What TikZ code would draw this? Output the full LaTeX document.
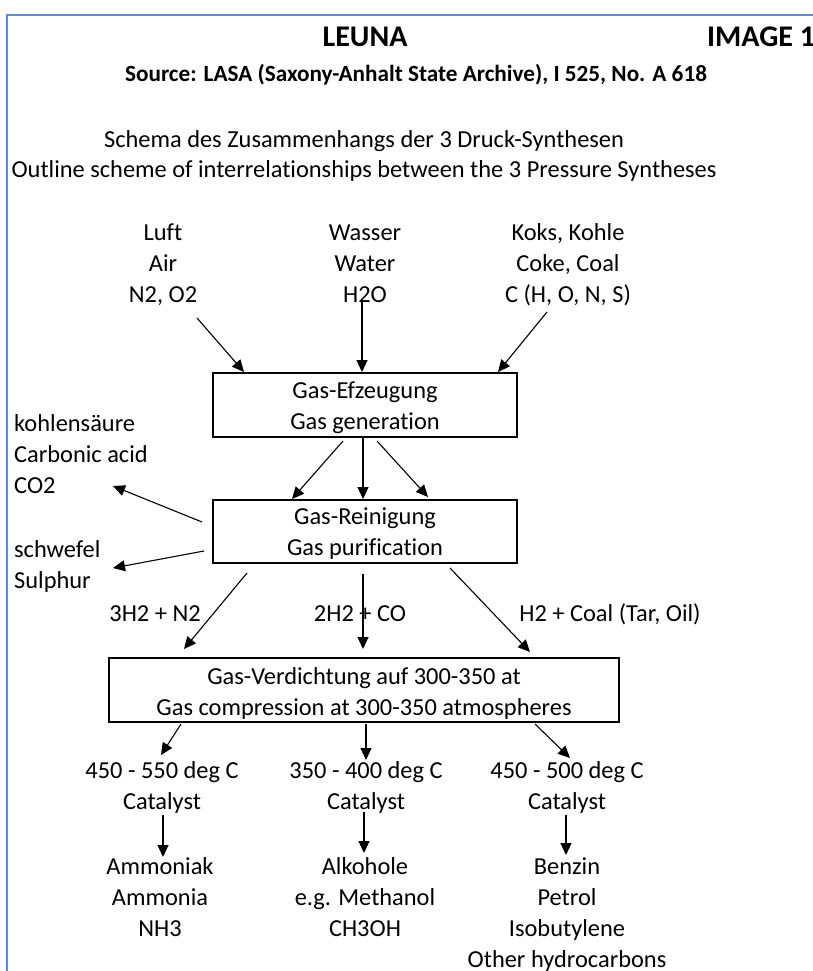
\documentclass[tikz,border=0pt]{standalone}
\usepackage{fontspec}
\setmainfont{Carlito}[Ligatures={NoCommon}]
\usetikzlibrary{arrows.meta,calc}
\definecolor{frameblue}{RGB}{91,141,210}
\begin{document}
\begin{tikzpicture}[x=1pt,y=-1pt,
  txt/.style={font=\fontsize{24.4}{31}\selectfont, inner sep=0pt, align=center, anchor=base},
  lefttxt/.style={txt, align=left, anchor=base west},
  box/.style={draw, line width=2pt, inner sep=0pt},
  arr/.style={-{Triangle[length=12pt,width=11pt]}, line width=1.1pt},
  framel/.style={draw=frameblue, line width=2pt}]
\useasboundingbox (0,0) rectangle (812,971);
\fill[white] (0,0) rectangle (812,971);
\draw[framel] (7,990) -- (7,15) -- (830,15);

% titles
\node[txt, font=\fontsize{30}{36}\selectfont\bfseries] (leuna) at (365,47) {LEUNA};
\node[txt, font=\fontsize{30}{36}\selectfont\bfseries, anchor=base west] (img) at (707,47) {IMAGE 1};
\node[txt, font=\fontsize{23.2}{31}\selectfont\bfseries] (src) at (416,82) {Source: LASA (Saxony-Anhalt State Archive), I 525, No. A 618};
\node[txt] (schema) at (364,147) {Schema des Zusammenhangs der 3 Druck-Synthesen};
\node[txt] (outline) at (364,177) {Outline scheme of interrelationships between the 3 Pressure Syntheses};

% inputs (anchor = baseline of last line)
\node[txt] (luft) at (163,302) {Luft\\Air\\N2, O2};
\node[txt] (wasser) at (365,302) {Wasser\\Water\\H2O};
\node[txt] (koks) at (568,302) {Koks, Kohle\\Coke, Coal\\C (H, O, N, S)};

% boxes
\node[box, minimum width=304pt, minimum height=64pt] (gen) at (365,405) {};
\node[box, minimum width=304pt, minimum height=63pt] (pur) at (365,531.5) {};
\node[box, minimum width=510pt, minimum height=64pt] (comp) at (364,690) {};
\node[txt] (gentxt) at (365,429) {Gas-Efzeugung\\Gas generation};
\node[txt] (purtxt) at (365,555) {Gas-Reinigung\\Gas purification};
\node[txt] (comptxt) at (364,715) {Gas-Verdichtung auf 300-350 at\\Gas compression at 300-350 atmospheres};

% side outputs
\node[lefttxt] (co2) at (14,493) {kohlensäure\\Carbonic acid\\CO2};
\node[lefttxt] (sulf) at (14,588) {schwefel\\Sulphur};

% gas mixtures
\node[txt] (mixa) at (155,621) {3H2 + N2};
\node[txt] (mixb) at (360,621) {2H2 + CO};
\node[txt] (mixc) at (610,621) {H2 + Coal (Tar, Oil)};

% conditions
\node[txt] (ta) at (162,809) {450 - 550 deg C\\Catalyst};
\node[txt] (tb) at (366,809) {350 - 400 deg C\\Catalyst};
\node[txt] (tc) at (567,809) {450 - 500 deg C\\Catalyst};

% products
\node[txt] (pa) at (160,936) {Ammoniak\\Ammonia\\NH3};
\node[txt] (pb) at (365,936) {Alkohole\\e.g. Methanol\\CH3OH};
\node[txt] (pc) at (567,967) {Benzin\\Petrol\\Isobutylene\\Other hydrocarbons};

% free ends
\coordinate (luftout) at (197,318);
\coordinate (wasserout) at (362,300);
\coordinate (koksout) at (547,312);
\coordinate (co2in) at (113,486);
\coordinate (sulfin) at (113,568);
\coordinate (tain) at (161,755);
\coordinate (tbin) at (366,760);
\coordinate (tcin) at (570,758);
\coordinate (taout) at (163,815);
\coordinate (tbout) at (364,812);
\coordinate (tcout) at (566,815);
\coordinate (pain) at (163,857);
\coordinate (pbin) at (364,853);
\coordinate (pcin) at (566,855);

% arrows into generation
\draw[arr] (luftout) -- ($(gen.north west)+(32,0)$);
\draw[arr] (wasserout) -- ($(gen.north)+(-3,0)$);
\draw[arr] (koksout) -- ($(gen.north east)+(-20,0)$);

% generation -> purification
\draw[arr] ($(gen.south)+(-22,3)$) -- ($(pur.north)+(-73,0)$);
\draw[arr] ($(gen.south)+(-2,0)$) -- ($(pur.north)+(-2,0)$);
\draw[arr] ($(gen.south)+(12,3)$) -- ($(pur.north)+(63,-2)$);

% purification side products
\draw[arr] ($(pur.west)+(-10,-9.5)$) -- (co2in);
\draw[arr] ($(pur.west)+(-8,19.5)$) -- (sulfin);

% purification -> compression
\draw[arr] ($(pur.south west)+(35,9)$) -- ($(comp.north west)+(76,-8)$);
\draw[arr] ($(pur.south)+(-2,10)$) -- ($(comp.north)+(-1,-8)$);
\draw[arr] ($(pur.south)+(85,4)$) -- ($(comp.north)+(166,-5)$);

% compression -> conditions
\draw[arr] ($(comp.south west)+(73,1)$) -- (tain);
\draw[arr] ($(comp.south)+(2,1)$) -- (tbin);
\draw[arr] ($(comp.south)+(171,1)$) -- (tcin);

% conditions -> products
\draw[arr] (taout) -- (pain);
\draw[arr] (tbout) -- (pbin);
\draw[arr] (tcout) -- (pcin);
\end{tikzpicture}
\end{document}
